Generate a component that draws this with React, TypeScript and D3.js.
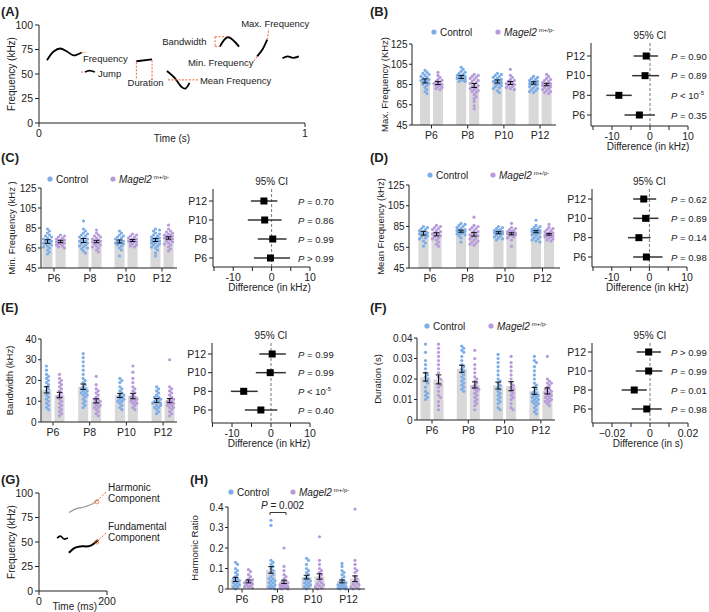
import React from 'react';
import * as d3 from 'd3';

const FONT = '"Liberation Sans", Arial, Helvetica, sans-serif';
const BLUE = '#7daee8';
const PURPLE = '#b79bda';
const BAR = '#d8d8d8';
const ORANGE = '#f0643c';

const groups = ['P6', 'P8', 'P10', 'P12'];
const rows = ['P12', 'P10', 'P8', 'P6'];

// ---- panel A: schematic calls (time s, frequency kHz)
const callWave = [[0.03, 64], [0.055, 73], [0.08, 76], [0.105, 73], [0.13, 69], [0.16, 72]];
const callJump = [[0.173, 52], [0.19, 53.5], [0.21, 52]];
const callDuration = [[0.366, 63], [0.425, 65]];
const callMean = [[0.481, 53], [0.51, 46], [0.535, 37], [0.549, 35], [0.566, 41]];
const callBand = [[0.68, 78], [0.71, 87.5], [0.752, 78]];
const callRise = [[0.82, 68], [0.84, 75], [0.858, 85]];
const callTail = [[0.915, 66], [0.935, 68], [0.955, 66.5], [0.977, 68]];

// ---- panel G (time ms, frequency kHz)
const gWiggle = [[53, 54], [63, 56], [74, 53], [85, 54]];
const gHarmonic = [[88, 80], [110, 84], [135, 86], [158, 89], [172, 93]];
const gFundamental = [[88, 39], [105, 44], [121, 45.5], [150, 46], [174, 52]];

// ---- B: max frequency (kHz)
const maxCtrl = [
  [99, 97, 96, 95, 94, 93, 92, 91, 90, 90, 89, 88, 88, 87, 86, 85, 84, 82, 80, 78, 76],
  [102, 100, 98, 97, 96, 95, 94, 93, 93, 92, 92, 91, 90, 90, 89, 88, 88],
  [96, 95, 94, 93, 92, 91, 90, 89, 89, 88, 88, 87, 86, 86, 85, 84, 83, 82, 81, 79, 77],
  [93, 92, 91, 90, 89, 88, 88, 87, 87, 86, 86, 85, 85, 84, 83, 82, 81, 80, 79, 78, 77],
];
const maxMagel = [
  [97, 94, 92, 90, 89, 88, 87, 86, 86, 85, 84, 84, 83, 82, 81, 80],
  [95, 94, 93, 92, 91, 90, 89, 88, 87, 86, 85, 84, 83, 82, 81, 80, 79, 78, 77, 75, 73, 71, 68, 64, 61],
  [100, 94, 92, 90, 89, 88, 87, 86, 86, 85, 84, 83, 82, 81, 80],
  [95, 93, 91, 90, 89, 88, 87, 86, 86, 85, 85, 84, 84, 83, 82, 81, 80, 79, 78, 77, 76],
];
const maxMeanCtrl = [88.5, 92.5, 88, 86.5];
const maxSemCtrl = [2, 1.5, 1.5, 1.2];
const maxMeanMagel = [86.5, 84, 86.5, 85];
const maxSemMagel = [1.5, 2, 1.5, 1.2];

// ---- C: min frequency (kHz)
const minCtrl = [
  [84, 82, 80, 78, 77, 76, 75, 74, 73, 72, 72, 71, 70, 70, 69, 68, 67, 66, 65, 63, 61, 59],
  [92, 84, 82, 80, 79, 78, 77, 76, 75, 74, 73, 72, 72, 71, 70, 69, 68, 67, 66, 65, 64, 62, 60],
  [82, 80, 78, 77, 76, 75, 74, 73, 72, 72, 71, 70, 70, 69, 68, 67, 65, 63, 57],
  [84, 83, 82, 80, 79, 78, 77, 76, 75, 75, 74, 74, 73, 73, 72, 72, 71, 70, 70, 69, 68, 67, 66, 65, 63, 60, 57],
];
const minMagel = [
  [78, 77, 76, 75, 74, 73, 73, 72, 72, 71, 71, 70, 70, 69, 69, 68, 67, 66, 65],
  [83, 80, 78, 77, 76, 75, 74, 73, 72, 72, 71, 71, 70, 69, 68, 67, 66, 65, 63, 61],
  [79, 78, 77, 76, 75, 74, 74, 73, 73, 72, 72, 71, 71, 70, 69, 68, 67, 66],
  [88, 84, 82, 81, 80, 79, 78, 78, 77, 77, 76, 76, 75, 75, 74, 74, 73, 72, 71, 70, 69, 68, 66, 64, 62],
];
const minMeanCtrl = [71.5, 72.5, 71.5, 73];
const minSemCtrl = [1.8, 2, 1.5, 1.5];
const minMeanMagel = [71.5, 71.5, 72.5, 75];
const minSemMagel = [1.2, 1.2, 1, 1.2];

// ---- D: mean frequency (kHz)
const meanCtrl = [
  [85, 84, 83, 82, 81, 80, 79, 79, 78, 78, 77, 76, 75, 74, 73, 71, 69, 66],
  [88, 87, 86, 85, 84, 83, 82, 82, 81, 81, 80, 80, 79, 79, 78, 78, 77, 76, 74, 70],
  [85, 84, 83, 82, 81, 81, 80, 80, 79, 79, 78, 78, 77, 76, 75, 74, 73, 72],
  [91, 86, 85, 84, 83, 82, 82, 81, 81, 80, 80, 79, 79, 78, 78, 77, 76, 75, 74, 73, 72, 71, 70],
];
const meanMagel = [
  [86, 85, 84, 83, 82, 81, 80, 79, 78, 78, 77, 76, 75, 74, 73, 72, 70, 68, 66],
  [94, 86, 85, 84, 83, 82, 81, 80, 79, 78, 77, 77, 76, 75, 74, 73, 72, 71, 70, 69, 68, 67],
  [88, 84, 83, 82, 81, 80, 80, 79, 79, 78, 78, 77, 77, 76, 75, 74, 72, 66],
  [87, 84, 83, 82, 81, 80, 79, 79, 78, 78, 77, 77, 76, 76, 75, 75, 74, 73, 72, 71],
];
const meanMeanCtrl = [78.5, 80.5, 79, 80];
const meanSemCtrl = [1.8, 1, 1, 1];
const meanMeanMagel = [77.5, 77.5, 78, 77.5];
const meanSemMagel = [1.5, 1.8, 1, 0.8];

// ---- E: bandwidth (kHz)
const bwCtrl = [
  [27, 25, 23, 22, 21, 20, 19, 18, 17, 16, 15, 14, 13, 12, 11, 10, 9, 8, 7, 6],
  [33, 31, 29, 27, 25, 23, 21, 20, 19, 18, 17, 16, 16, 15, 15, 14, 14, 13, 13, 12, 11, 10, 9, 8, 7],
  [21, 20, 19, 17, 16, 15, 14, 13, 13, 12, 12, 11, 11, 10, 10, 9, 8, 7, 6],
  [17, 16, 15, 14, 13, 12, 12, 11, 11, 10, 10, 10, 9, 9, 8, 8, 7, 7, 6, 5, 4],
];
const bwMagel = [
  [23, 21, 20, 19, 18, 17, 16, 15, 14, 13, 12, 12, 11, 10, 9, 8, 7, 6, 5, 4, 3],
  [22, 18, 16, 15, 14, 13, 12, 11, 11, 10, 10, 9, 9, 8, 8, 7, 7, 6, 5, 4, 3],
  [27, 24, 21, 19, 17, 16, 15, 14, 13, 12, 12, 11, 11, 10, 10, 9, 9, 8, 7, 6],
  [30, 17, 16, 15, 14, 13, 12, 11, 11, 10, 10, 9, 9, 8, 8, 7, 7, 6, 5, 4, 3],
];
const bwMeanCtrl = [15.5, 17, 12.8, 10.3];
const bwSemCtrl = [1.5, 1.3, 1, 1];
const bwMeanMagel = [13, 10.2, 12.5, 10.3];
const bwSemMagel = [1.3, 1, 1.3, 1];

// ---- F: duration (s)
const durCtrl = [
  [0.037, 0.033, 0.029, 0.027, 0.025, 0.023, 0.022, 0.021, 0.02, 0.019, 0.018, 0.016, 0.014, 0.013, 0.012, 0.011, 0.01],
  [0.036, 0.035, 0.034, 0.033, 0.031, 0.029, 0.027, 0.026, 0.025, 0.024, 0.023, 0.022, 0.021, 0.02, 0.019, 0.018, 0.017, 0.016, 0.015, 0.014],
  [0.032, 0.03, 0.028, 0.026, 0.024, 0.022, 0.02, 0.019, 0.018, 0.017, 0.016, 0.015, 0.014, 0.013, 0.012, 0.011, 0.01, 0.009, 0.008, 0.006, 0.005],
  [0.031, 0.029, 0.028, 0.026, 0.024, 0.022, 0.02, 0.018, 0.017, 0.016, 0.015, 0.014, 0.013, 0.013, 0.012, 0.012, 0.011, 0.011, 0.01, 0.01, 0.009, 0.009, 0.008, 0.008, 0.007, 0.006, 0.005, 0.004, 0.003],
];
const durMagel = [
  [0.037, 0.035, 0.033, 0.031, 0.029, 0.027, 0.025, 0.023, 0.021, 0.02, 0.018, 0.017, 0.016, 0.014, 0.012, 0.011, 0.009, 0.007, 0.005],
  [0.034, 0.03, 0.027, 0.025, 0.023, 0.021, 0.02, 0.019, 0.018, 0.017, 0.016, 0.016, 0.015, 0.015, 0.014, 0.013, 0.012, 0.011, 0.01, 0.009, 0.008, 0.007, 0.005],
  [0.031, 0.028, 0.026, 0.024, 0.022, 0.02, 0.018, 0.017, 0.016, 0.015, 0.014, 0.013, 0.012, 0.011, 0.01, 0.008, 0.006, 0.005],
  [0.031, 0.02, 0.019, 0.018, 0.018, 0.017, 0.016, 0.015, 0.015, 0.014, 0.014, 0.013, 0.013, 0.012, 0.012, 0.011, 0.011, 0.01, 0.01, 0.009, 0.009, 0.008, 0.007],
];
const durMeanCtrl = [0.021, 0.025, 0.0168, 0.0142];
const durSemCtrl = [0.002, 0.0017, 0.0017, 0.0017];
const durMeanMagel = [0.0198, 0.0171, 0.0165, 0.0142];
const durSemMagel = [0.0022, 0.0015, 0.0022, 0.0015];

// ---- H: harmonic ratio
const harmCtrl = [
  [0.13, 0.12, 0.1, 0.09, 0.08, 0.07, 0.06, 0.05, 0.05, 0.04, 0.04, 0.03, 0.03, 0.02, 0.02, 0.01, 0.01, 0],
  [0.335, 0.31, 0.14, 0.13, 0.12, 0.11, 0.1, 0.09, 0.08, 0.07, 0.06, 0.05, 0.05, 0.04, 0.04, 0.03, 0.03, 0.02, 0.02, 0.01, 0.01, 0.005, 0],
  [0.15, 0.14, 0.12, 0.1, 0.09, 0.08, 0.07, 0.06, 0.05, 0.05, 0.04, 0.04, 0.03, 0.03, 0.02, 0.02, 0.01, 0.01, 0],
  [0.125, 0.11, 0.09, 0.08, 0.07, 0.06, 0.05, 0.04, 0.035, 0.03, 0.025, 0.02, 0.02, 0.015, 0.01, 0.01, 0.005, 0.005, 0, 0],
];
const harmMagel = [
  [0.095, 0.085, 0.07, 0.06, 0.05, 0.045, 0.04, 0.035, 0.03, 0.03, 0.025, 0.02, 0.015, 0.01, 0.01, 0.005],
  [0.2, 0.11, 0.09, 0.07, 0.06, 0.05, 0.04, 0.035, 0.03, 0.025, 0.02, 0.02, 0.015, 0.01, 0.01, 0.005, 0.005, 0, 0],
  [0.255, 0.14, 0.12, 0.1, 0.09, 0.08, 0.07, 0.06, 0.05, 0.04, 0.03, 0.025, 0.02, 0.015, 0.01, 0.005, 0],
  [0.39, 0.14, 0.12, 0.1, 0.09, 0.08, 0.06, 0.05, 0.04, 0.03, 0.025, 0.02, 0.015, 0.01, 0.005, 0, 0],
];
const harmMeanCtrl = [0.047, 0.093, 0.058, 0.037];
const harmSemCtrl = [0.01, 0.016, 0.009, 0.007];
const harmMeanMagel = [0.037, 0.035, 0.061, 0.05];
const harmSemMagel = [0.007, 0.008, 0.013, 0.014];

// ---- forest plots (rows P12, P10, P8, P6)
const maxDiff = [-1, -1.3, -8.2, -2.8];
const maxLo = [-4.3, -4.7, -11.5, -6.7];
const maxHi = [2.1, 2.4, -4.8, 1.3];
const maxP = ['= 0.90', '= 0.89', '< 10^-5', '= 0.35'];

const minDiff = [-2, -1.8, 0.3, -0.3];
const minLo = [-5.4, -6.2, -3.6, -4.6];
const minHi = [1.5, 2.6, 3.9, 4.8];
const minP = ['= 0.70', '= 0.86', '= 0.99', '> 0.99'];

const meanDiff = [-1.5, -1, -2.8, -0.8];
const meanLo = [-4.3, -4.3, -5.7, -4.3];
const meanHi = [1.8, 2.4, 0.3, 3.5];
const meanP = ['= 0.62', '= 0.89', '= 0.14', '= 0.98'];

const bwDiff = [0.3, -0.2, -7, -2.6];
const bwLo = [-3, -3.9, -10.3, -6.7];
const bwHi = [3.8, 3.8, -3.4, 1.6];
const bwP = ['= 0.99', '= 0.99', '< 10^-5', '= 0.40'];

const durDiff = [-0.0007, -0.0007, -0.0083, -0.0017];
const durLo = [-0.007, -0.0075, -0.0149, -0.0096];
const durHi = [0.0058, 0.0065, -0.0017, 0.0062];
const durP = ['> 0.99', '= 0.99', '= 0.01', '= 0.98'];

const txt = { fontFamily: FONT, fill: '#222' };

// simple beeswarm so dots stay inside the bar
function swarm(values, y, cx, r, maxW) {
  const placed = [];
  const step = r * 1.25;
  const minD = r * 1.7;
  return values.map(v => {
    const py = y(v);
    let best = 0;
    let bestScore = -1;
    for (let k = 0; k < 15; k++) {
      const off = k === 0 ? 0 : (k % 2 ? 1 : -1) * Math.ceil(k / 2) * step;
      if (Math.abs(off) > maxW) break;
      const d = placed.length ? d3.min(placed, p => Math.hypot(p[0] - off, p[1] - py)) : 99;
      if (d >= minD) { best = off; bestScore = d; break; }
      if (d > bestScore) { bestScore = d; best = off; }
    }
    placed.push([best, py]);
    return [cx + best, py];
  });
}

const Legend = ({ x1, x2, y }) => (
  <g fontSize={10} style={txt}>
    <circle cx={x1} cy={y} r={2.6} fill={BLUE} />
    <text x={x1 + 6} y={y + 3.5}>Control</text>
    <circle cx={x2} cy={y} r={2.6} fill={PURPLE} />
    <text x={x2 + 6} y={y + 3.5}>
      <tspan fontStyle="italic">Magel2</tspan>
      <tspan fontSize={6} dy={-4} dx={2}>m+/p-</tspan>
    </text>
  </g>
);

const ErrBar = ({ x, y0, y1 }) => (
  <g stroke="#111" strokeWidth={1}>
    <line x1={x} x2={x} y1={y0} y2={y1} />
    <line x1={x - 2.8} x2={x + 2.8} y1={y0} y2={y0} />
    <line x1={x - 2.8} x2={x + 2.8} y1={y1} y2={y1} />
  </g>
);

const BarPanel = ({ ax0, ax1, yDom, yRange, ticks, fmt, c0, s, ctrl, magel, mc, sc, mm, sm, ylabel, labelX }) => {
  const y = d3.scaleLinear().domain(yDom).range(yRange);
  const x = d3.scaleBand().domain(groups).range([c0 - s / 2, c0 + 3.5 * s]);
  const cx = g => x(g) + x.bandwidth() / 2;
  const bw = 10;
  const off = 6.5;
  const base = y(yDom[0]);
  return (
    <g>
      {groups.map((g, i) => (
        <g key={g}>
          <rect x={cx(g) - off - bw / 2} width={bw} y={y(mc[i])} height={base - y(mc[i])} fill={BAR} />
          <rect x={cx(g) + off - bw / 2} width={bw} y={y(mm[i])} height={base - y(mm[i])} fill={BAR} />
        </g>
      ))}
      {groups.map((g, i) => (
        <g key={g}>
          {swarm(ctrl[i], y, cx(g) - off, 1.6, 5).map((p, j) => (
            <circle key={'c' + j} cx={p[0]} cy={p[1]} r={1.6} fill={BLUE} />
          ))}
          {swarm(magel[i], y, cx(g) + off, 1.6, 5).map((p, j) => (
            <circle key={'m' + j} cx={p[0]} cy={p[1]} r={1.6} fill={PURPLE} />
          ))}
          <ErrBar x={cx(g) - off} y0={y(mc[i] - sc[i])} y1={y(mc[i] + sc[i])} />
          <ErrBar x={cx(g) + off} y0={y(mm[i] - sm[i])} y1={y(mm[i] + sm[i])} />
        </g>
      ))}
      <g stroke="#222" strokeWidth={1} fill="none">
        <line x1={ax0} x2={ax0} y1={yRange[1]} y2={base} />
        <line x1={ax0} x2={ax1} y1={base} y2={base} />
        {ticks.map(t => <line key={t} x1={ax0 - 3} x2={ax0} y1={y(t)} y2={y(t)} />)}
        {groups.map(g => <line key={g} x1={cx(g)} x2={cx(g)} y1={base} y2={base + 3.5} />)}
      </g>
      <g fontSize={10} style={txt}>
        {ticks.map(t => (
          <text key={t} x={ax0 - 4.5} y={y(t) + 3.5} textAnchor="end">{fmt(t)}</text>
        ))}
        {groups.map(g => (
          <text key={g} x={cx(g)} y={base + 13.5} textAnchor="middle" fontSize={10.5}>{g}</text>
        ))}
        <text transform={`translate(${labelX},${(yRange[0] + yRange[1]) / 2}) rotate(-90)`} textAnchor="middle" dy="0.35em" fontSize={9.5}>{ylabel}</text>
      </g>
    </g>
  );
};

const PLabel = ({ x, y, s }) => {
  const rest = s.split('^');
  return (
    <text x={x} y={y} fontSize={9.5} style={txt}>
      <tspan fontStyle="italic">P</tspan>
      <tspan>{' ' + rest[0]}</tspan>
      {rest[1] ? <tspan fontSize={6} dy={-4}>{rest[1]}</tspan> : null}
    </text>
  );
};

const Forest = ({ ax0, xDom, xRange, ticks, labels, fmt, rowRange, top, bottom, est, lo, hi, ps, pX, xlabel }) => {
  const x = d3.scaleLinear().domain(xDom).range(xRange);
  const y = d3.scalePoint().domain(rows).range(rowRange);
  return (
    <g>
      <line x1={x(0)} x2={x(0)} y1={top} y2={bottom} stroke="#777" strokeDasharray="3,2" />
      {rows.map((r, i) => (
        <g key={r}>
          <line x1={x(lo[i])} x2={x(hi[i])} y1={y(r)} y2={y(r)} stroke="#333" strokeWidth={1.5} />
          <rect x={x(est[i]) - 3.5} y={y(r) - 3.5} width={7} height={7} fill="#000" />
          <PLabel x={pX} y={y(r) + 3.5} s={ps[i]} />
        </g>
      ))}
      <g stroke="#222" strokeWidth={1} fill="none">
        <line x1={ax0} x2={ax0} y1={top} y2={bottom} />
        <line x1={ax0} x2={x(xDom[1])} y1={bottom} y2={bottom} />
        {rows.map(r => <line key={r} x1={ax0 - 4} x2={ax0} y1={y(r)} y2={y(r)} />)}
        {ticks.map(t => <line key={t} x1={x(t)} x2={x(t)} y1={bottom} y2={bottom + 4} />)}
      </g>
      <g fontSize={10.5} style={txt}>
        {rows.map(r => (
          <text key={r} x={ax0 - 6} y={y(r) + 3.7} textAnchor="end">{r}</text>
        ))}
        {labels.map(t => (
          <text key={t} x={x(t)} y={bottom + 14} textAnchor="middle">{fmt(t)}</text>
        ))}
        <text x={x(0)} y={top - 4} textAnchor="middle" fontSize={10}>95% CI</text>
        <text x={x(0) - 2} y={bottom + 24} textAnchor="middle" fontSize={10}>{xlabel}</text>
      </g>
    </g>
  );
};

const SchematicA = () => {
  const x = d3.scaleLinear().domain([0, 1]).range([39, 305]);
  const y = d3.scaleLinear().domain([0, 100]).range([123, 25]);
  const line = d3.line().x(d => x(d[0])).y(d => y(d[1])).curve(d3.curveCatmullRom);
  const seg = (a, b, k) => (
    <line key={k} x1={x(a[0])} y1={y(a[1])} x2={x(b[0])} y2={y(b[1])} stroke={ORANGE} strokeWidth={1} strokeDasharray="2,1.5" />
  );
  const ticks = [0, 25, 50, 75, 100];
  return (
    <g>
      <g fill="none" stroke="#000" strokeWidth={1.8}>
        {[callWave, callJump, callDuration, callMean, callBand, callRise, callTail].map((c, i) => (
          <path key={i} d={line(c)} />
        ))}
      </g>
      {seg([0.16, 72], [0.175, 72], 'f')}
      {seg([0.158, 52], [0.173, 52], 'j')}
      {seg([0.366, 62], [0.366, 44], 'd1')}
      {seg([0.425, 64], [0.425, 44], 'd2')}
      {seg([0.485, 44], [0.6, 44], 'm')}
      {seg([0.662, 88], [0.712, 88], 'b1')}
      {seg([0.662, 88], [0.662, 78], 'b2')}
      {seg([0.662, 78], [0.68, 78], 'b3')}
      {seg([0.858, 85], [0.864, 96], 'mx')}
      {seg([0.82, 68], [0.803, 61], 'mn')}
      <g fontSize={9.5} style={txt}>
        <text x={x(0.165)} y={y(62)}>Frequency</text>
        <text x={x(0.222)} y={y(47)}>Jump</text>
        <text x={x(0.333)} y={y(37.5)}>Duration</text>
        <text x={x(0.605)} y={y(40)}>Mean Frequency</text>
        <text x={x(0.463)} y={y(79.5)}>Bandwidth</text>
        <text x={x(0.76)} y={y(97.5)}>Max. Frequency</text>
        <text x={x(0.56)} y={y(58)}>Min. Frequency</text>
      </g>
      <g stroke="#222" strokeWidth={1}>
        <line x1={x(0)} x2={x(0)} y1={y(100)} y2={y(0)} />
        <line x1={x(0)} x2={x(1)} y1={y(0)} y2={y(0)} />
        {ticks.map(t => <line key={t} x1={x(0) - 4} x2={x(0)} y1={y(t)} y2={y(t)} />)}
        {[0, 1].map(t => <line key={t} x1={x(t)} x2={x(t)} y1={y(0)} y2={y(0) + 4} />)}
      </g>
      <g fontSize={10.5} style={txt}>
        {ticks.map(t => <text key={t} x={x(0) - 6} y={y(t) + 3.7} textAnchor="end">{t}</text>)}
        {[0, 1].map(t => <text key={t} x={x(t)} y={y(0) + 14} textAnchor="middle">{t}</text>)}
        <text x={(x(0) + x(1)) / 2} y={y(0) + 19} textAnchor="middle" fontSize={10}>Time (s)</text>
        <text transform={`translate(11,${y(50)}) rotate(-90)`} textAnchor="middle" dy="0.35em" fontSize={10}>Frequency (kHz)</text>
      </g>
    </g>
  );
};

const SchematicG = () => {
  const x = d3.scaleLinear().domain([0, 200]).range([39, 107]);
  const y = d3.scaleLinear().domain([0, 100]).range([591, 493]);
  const line = d3.line().x(d => x(d[0])).y(d => y(d[1])).curve(d3.curveCatmullRom);
  const ticks = [0, 25, 50, 75, 100];
  return (
    <g>
      <path d={line(gWiggle)} fill="none" stroke="#000" strokeWidth={1.6} />
      <path d={line(gHarmonic)} fill="none" stroke="#999" strokeWidth={1.2} />
      <path d={line(gFundamental)} fill="none" stroke="#000" strokeWidth={2} />
      <line x1={x(197)} y1={y(101)} x2={x(168)} y2={y(91)} stroke={ORANGE} strokeDasharray="2,1.5" />
      <line x1={x(197)} y1={y(59)} x2={x(168)} y2={y(50)} stroke={ORANGE} strokeDasharray="2,1.5" />
      <circle cx={x(170)} cy={y(91)} r={2} fill="none" stroke={ORANGE} strokeWidth={0.8} />
      <circle cx={x(170)} cy={y(50)} r={2} fill="none" stroke={ORANGE} strokeWidth={0.8} />
      <g fontSize={10} style={txt}>
        <text x={x(203)} y={y(102)}>Harmonic</text>
        <text x={x(203)} y={y(91)}>Component</text>
        <text x={x(203)} y={y(62.5)}>Fundamental</text>
        <text x={x(203)} y={y(51)}>Component</text>
      </g>
      <g stroke="#222" strokeWidth={1}>
        <line x1={x(0)} x2={x(0)} y1={y(100)} y2={y(0)} />
        <line x1={x(0)} x2={x(200)} y1={y(0)} y2={y(0)} />
        {ticks.map(t => <line key={t} x1={x(0) - 4} x2={x(0)} y1={y(t)} y2={y(t)} />)}
        {[0, 200].map(t => <line key={t} x1={x(t)} x2={x(t)} y1={y(0)} y2={y(0) + 4} />)}
      </g>
      <g fontSize={10.5} style={txt}>
        {ticks.map(t => <text key={t} x={x(0) - 6} y={y(t) + 3.7} textAnchor="end">{t}</text>)}
        {[0, 200].map(t => <text key={t} x={x(t)} y={y(0) + 14} textAnchor="middle">{t}</text>)}
        <text x={x(105)} y={y(0) + 19} textAnchor="middle" fontSize={10}>Time (ms)</text>
        <text transform={`translate(11,${y(50)}) rotate(-90)`} textAnchor="middle" dy="0.35em" fontSize={10}>Frequency (kHz)</text>
      </g>
    </g>
  );
};

const Letter = ({ x, y, t }) => (
  <text x={x} y={y} fontSize={13} fontWeight="bold" style={txt}>{t}</text>
);

const f0 = d => String(d);
const fDec = d => (d === 0 ? '0' : d3.format('.2~f')(d));

export default function App() {
  return (
    <svg width={709} height={612} style={{ position: 'absolute', left: 0, top: 0, background: '#fff' }}>
      <Letter x={1} y={16} t="(A)" />
      <Letter x={370} y={16} t="(B)" />
      <Letter x={1} y={162} t="(C)" />
      <Letter x={370} y={162} t="(D)" />
      <Letter x={1} y={312} t="(E)" />
      <Letter x={370} y={312} t="(F)" />
      <Letter x={1} y={484} t="(G)" />
      <Letter x={190} y={484} t="(H)" />

      <SchematicA />
      <SchematicG />

      {/* B */}
      <Legend x1={434} x2={498} y={32} />
      <BarPanel ax0={412} ax1={556} yDom={[45, 125]} yRange={[125, 44]} ticks={[45, 65, 85, 105, 125]} fmt={f0}
        c0={431.5} s={36.2} ctrl={maxCtrl} magel={maxMagel} mc={maxMeanCtrl} sc={maxSemCtrl} mm={maxMeanMagel} sm={maxSemMagel}
        ylabel="Max. Frequency (KHz)" labelX={385} />
      <Forest ax0={591} xDom={[-15, 10]} xRange={[593, 688]} ticks={[-15, -10, -5, 0, 5, 10]} labels={[-10, 0, 10]} fmt={f0}
        rowRange={[56, 115]} top={43} bottom={126} est={maxDiff} lo={maxLo} hi={maxHi} ps={maxP} pX={671} xlabel="Difference (in kHz)" />

      {/* C */}
      <Legend x1={50} x2={113} y={179} />
      <BarPanel ax0={41} ax1={177} yDom={[45, 125]} yRange={[268, 188]} ticks={[45, 65, 85, 105, 125]} fmt={f0}
        c0={54} s={36} ctrl={minCtrl} magel={minMagel} mc={minMeanCtrl} sc={minSemCtrl} mm={minMeanMagel} sm={minSemMagel}
        ylabel="Min. Frequency (kHz )" labelX={12} />
      <Forest ax0={213} xDom={[-15, 10]} xRange={[214, 310]} ticks={[-15, -10, -5, 0, 5, 10]} labels={[-10, 0, 10]} fmt={f0}
        rowRange={[201, 258]} top={189} bottom={267} est={minDiff} lo={minLo} hi={minHi} ps={minP} pX={298} xlabel="Difference (in kHz)" />

      {/* D */}
      <Legend x1={430} x2={493} y={175} />
      <BarPanel ax0={409} ax1={560} yDom={[45, 125]} yRange={[268, 185]} ticks={[45, 65, 85, 105, 125]} fmt={f0}
        c0={430} s={37.5} ctrl={meanCtrl} magel={meanMagel} mc={meanMeanCtrl} sc={meanSemCtrl} mm={meanMeanMagel} sm={meanSemMagel}
        ylabel="Mean Frequency (kHz)" labelX={381} />
      <Forest ax0={592} xDom={[-15, 10]} xRange={[593, 687]} ticks={[-15, -10, -5, 0, 5, 10]} labels={[-10, 0, 10]} fmt={f0}
        rowRange={[199, 257]} top={189} bottom={267} est={meanDiff} lo={meanLo} hi={meanHi} ps={meanP} pX={671} xlabel="Difference (in kHz)" />

      {/* E */}
      <BarPanel ax0={41} ax1={177} yDom={[0, 40]} yRange={[422, 339]} ticks={[0, 10, 20, 30, 40]} fmt={f0}
        c0={53} s={36.7} ctrl={bwCtrl} magel={bwMagel} mc={bwMeanCtrl} sc={bwSemCtrl} mm={bwMeanMagel} sm={bwSemMagel}
        ylabel="Bandwidth (kHz)" labelX={10} />
      <Forest ax0={212} xDom={[-15, 10]} xRange={[212.5, 310]} ticks={[-15, -10, -5, 0, 5, 10]} labels={[-10, 0, 10]} fmt={f0}
        rowRange={[354, 410]} top={343} bottom={423} est={bwDiff} lo={bwLo} hi={bwHi} ps={bwP} pX={298} xlabel="Difference (in kHz)" />

      {/* F */}
      <Legend x1={427} x2={491} y={326} />
      <BarPanel ax0={417} ax1={555} yDom={[0, 0.04]} yRange={[420, 338]} ticks={[0, 0.01, 0.02, 0.03, 0.04]} fmt={fDec}
        c0={432} s={36.3} ctrl={durCtrl} magel={durMagel} mc={durMeanCtrl} sc={durSemCtrl} mm={durMeanMagel} sm={durSemMagel}
        ylabel="Duration (s)" labelX={378} />
      <Forest ax0={592} xDom={[-0.03, 0.02]} xRange={[593, 688]} ticks={[-0.03, -0.02, -0.01, 0, 0.01, 0.02]} labels={[-0.02, 0, 0.02]} fmt={fDec}
        rowRange={[352, 409]} top={343} bottom={423} est={durDiff} lo={durLo} hi={durHi} ps={durP} pX={671} xlabel="Difference (in s)" />

      {/* H */}
      <Legend x1={231} x2={293} y={492} />
      <BarPanel ax0={228} ax1={365} yDom={[0, 0.4]} yRange={[589, 507]} ticks={[0, 0.1, 0.2, 0.3, 0.4]} fmt={fDec}
        c0={242} s={35.5} ctrl={harmCtrl} magel={harmMagel} mc={harmMeanCtrl} sc={harmSemCtrl} mm={harmMeanMagel} sm={harmSemMagel}
        ylabel="Harmonic Ratio" labelX={195} />
      <g stroke="#222" strokeWidth={0.9} fill="none">
        <path d="M270,515 V512.5 H286 V515" />
      </g>
      <text x={261} y={509} fontSize={10} style={txt}>
        <tspan fontStyle="italic">P</tspan> = 0.002
      </text>
    </svg>
  );
}
